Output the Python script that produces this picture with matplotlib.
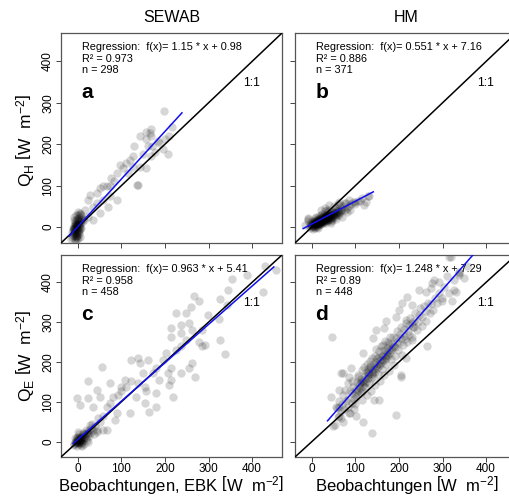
import matplotlib
matplotlib.use("Agg")
import matplotlib.pyplot as plt

plt.rcParams['font.family'] = ['Liberation Sans', 'DejaVu Sans']
plt.rcParams['mathtext.fontset'] = 'custom'
plt.rcParams['mathtext.rm'] = 'Liberation Sans'
plt.rcParams['mathtext.it'] = 'Liberation Sans:italic'
plt.rcParams['mathtext.bf'] = 'Liberation Sans:bold'

model_titles = ["SEWAB", "HM"]
panel_letters = ["a", "b", "c", "d"]
tick_values = [0, 100, 200, 300, 400]

sewab_qh_points = [
    (197, 280), (217, 241), (210, 221), (201, 213), (168, 221), (166, 227), (142, 221), (157, 213),
    (183, 207), (162, 195), (130, 195), (149, 177), (195, 189), (208, 177), (168, 171), (142, 146),
    (157, 142), (126, 171), (111, 155), (96, 150), (115, 130), (89, 130), (77, 118), (66, 98),
    (58, 98), (73, 74), (51, 94), (43, 82), (24, 66), (28, 78), (35, 49), (17, 41), (5, 33),
    (13, 17), (51, 33), (89, 66), (136, 101), (43, 57), (58, 66), (73, 98), (84, 110), (24, 25),
    (35, 17), (119, 163), (104, 142), (126, 146), (171, 195), (178, 181), (186, 203), (157, 229),
    (168, 236), (70, 49), (138, 102),
    (-8, -5), (-5, 0), (-3, 5), (0, 10), (2, 15), (-6, -10), (-10, -15), (-12, -20), (-4, -22),
    (0, -10), (3, 0), (5, 8), (-2, 20), (1, 28), (-6, 12), (-9, 3), (-11, -8), (-14, -25),
    (-7, -28), (-2, -30), (4, -5), (6, 18), (-3, -15), (8, 25), (-5, 30), (2, -18), (-9, -3),
    (-1, 2), (3, -8), (0, 35), (-13, -12), (10, 12), (7, -2), (-4, 8), (12, 20), (-15, -28),
    (-6, -33), (5, -25), (-3, -23), (-7, 4), (-2, -6), (1, 6), (-5, -14), (4, 12), (-8, 18),
    (-6, -2), (-4, 3), (-2, 8), (0, 14), (1, 20), (-8, -12), (-6, -18), (-10, -22), (-3, -8),
    (-1, -3), (2, 5), (4, 1), (-7, 7), (-9, -6), (-5, -25), (-1, -20), (3, 22), (0, -27),
    (-12, -2), (6, 28), (-4, 16), (2, -12), (-8, 25), (4, 32),
]

hm_qh_points = [
    (0, 5), (5, 8), (10, 10), (15, 12), (20, 15), (25, 18), (30, 20), (35, 22), (40, 25), (45, 28),
    (50, 30), (55, 33), (5, 3), (10, 5), (15, 15), (20, 10), (25, 25), (30, 15), (35, 28), (40, 20),
    (45, 22), (50, 35), (0, 0), (-5, 2), (8, 18), (12, 0), (18, 22), (22, 8), (28, 12), (32, 30),
    (38, 18), (42, 32), (48, 25), (52, 40), (58, 30), (60, 38), (65, 35), (3, 12), (7, -2),
    (14, 20), (17, 5), (24, 14), (27, 30), (33, 10), (36, 35), (44, 15), (20, 28), (10, 25),
    (0, 15), (-3, 8), (62, 28), (70, 40), (68, 45), (75, 42), (80, 45), (85, 50), (72, 50),
    (55, 45), (30, 38), (40, 42), (-8, 15), (-10, 20), (-5, -2), (2, -5), (15, -3),
    (12, 14), (18, 16), (22, 20), (26, 22), (16, 9), (21, 12), (29, 25), (34, 18), (9, 8), (6, 14),
    (2, 2), (4, 6), (6, 4), (8, 9), (11, 7), (13, 11), (16, 13), (19, 12), (21, 17), (23, 15),
    (26, 19), (29, 17), (31, 23), (34, 21), (37, 24), (39, 27), (41, 23), (43, 29), (46, 26),
    (49, 31), (51, 28), (53, 34), (56, 31), (59, 36), (3, 9), (9, 13), (14, 8), (18, 19), (23, 23),
    (27, 14), (31, 27), (36, 19), (41, 31), (46, 33), (52, 25), (57, 39), (1, 4), (6, 11),
    (12, 17), (17, 10), (22, 13), (27, 21), (33, 25), (38, 30), (43, 20), (48, 36), (5, 0),
    (11, 3), (19, 6), (25, 10), (35, 15), (47, 18), (-2, 5), (-4, 10), (8, 22), (16, 26),
    (24, 32), (34, 40), (62, 33), (66, 40),
    (7, 6), (13, 9), (17, 14), (24, 17), (28, 19), (32, 21), (15, 18), (20, 21), (25, 14), (30, 24),
    (10, 12), (36, 26), (40, 29), (44, 24), (12, 8), (19, 9), (27, 17), (33, 19),
    (90, 55), (95, 60), (100, 55), (105, 62), (110, 62), (88, 40), (78, 58), (60, 55), (65, 52),
    (120, 53), (128, 74), (132, 74), (125, 60), (-9, 21), (40, 53), (63, 61), (50, 50), (98, 61),
    (75, 57), (85, 65), (115, 70), (20, 40), (30, 45), (-15, 5), (45, 10), (55, 20), (70, 25),
    (80, 35),
]

sewab_qe_points = [
    (388, 419), (354, 408), (345, 381), (327, 358), (342, 343), (323, 307), (299, 318), (278, 352),
    (267, 366), (259, 339), (248, 323), (256, 297), (236, 293), (225, 323), (236, 272), (214, 264),
    (214, 285), (263, 281), (286, 281), (293, 243), (327, 256), (339, 220), (270, 163), (255, 184),
    (263, 197), (214, 184), (214, 155), (210, 142), (206, 172), (195, 205), (180, 184), (180, 122),
    (164, 75), (153, 96), (153, 138), (160, 205), (138, 210), (123, 205), (123, 151), (108, 155),
    (111, 138), (100, 126), (119, 71), (89, 71), (81, 113), (92, 117), (73, 96), (85, 55), (58, 63),
    (55, 188), (43, 130), (35, 88), (24, 151), (24, 109), (5, 92), (-2, 109), (58, 29), (47, 59),
    (28, 42), (24, 21), (43, 25), (66, 29), (100, 138), (134, 113), (138, 147), (157, 126),
    (187, 155), (180, 88), (218, 113), (236, 172), (236, 239), (248, 256), (278, 251), (286, 239),
    (225, 230), (203, 222), (172, 172), (149, 172), (142, 197), (73, 147), (66, 88), (51, 113),
    (430, 441), (456, 431), (426, 376),
    (-5, 0), (0, 5), (5, 10), (10, 15), (-8, -5), (2, -3), (8, 3), (12, 20), (15, 8), (-3, 12),
    (20, 25), (25, 15), (18, 30), (-10, -8), (6, -8), (3, 18), (-2, -10), (10, 0), (14, -5),
    (22, 5), (28, 22), (30, 35), (0, 25), (-6, 8), (4, 2), (7, 12), (16, 18), (-4, -3), (9, -12),
    (24, -2), (35, 28), (40, 40), (45, 30), (50, 50), (32, 45), (38, 20), (1, -1), (3, 6), (-1, 3),
    (0, 0), (2, 2), (4, 5), (6, 7), (-3, -2), (1, -5), (5, -2), (8, 8), (10, 10), (12, 5),
    (-1, 8), (3, 12), (-5, 3), (7, -4), (14, 12), (18, 10), (11, 22), (20, 18), (-7, 0), (26, 28),
]

hm_qe_points = [
    (315, 465), (330, 377), (299, 352), (261, 377), (246, 381), (277, 398), (292, 402), (311, 415),
    (337, 419), (219, 364), (231, 343), (208, 348), (200, 331), (193, 314), (216, 306), (231, 297),
    (170, 302), (166, 285), (147, 281), (140, 260), (46, 264), (117, 222), (71, 172), (90, 184),
    (204, 163), (63, 130), (155, 105), (63, 88), (63, 63), (193, 67), (52, 42), (139, 21),
    (280, 406), (326, 406), (337, 427), (273, 385), (315, 373), (265, 239), (204, 168), (235, 289),
    (231, 255), (216, 209), (143, 105), (86, 163), (67, 172), (56, 88), (86, 71), (101, 63),
    (117, 50), (71, 50), (48, 38), (43, 113), (319, 465), (338, 423), (349, 411), (326, 381),
    (322, 352), (357, 440),
    (61, 62), (58, 84), (63, 101), (66, 76), (69, 95), (72, 118), (74, 82), (77, 130), (68, 58),
    (82, 86), (84, 108), (79, 101), (87, 128), (88, 72), (83, 146), (92, 96), (91, 121), (94, 138),
    (96, 106), (93, 152), (97, 82), (99, 116), (102, 112), (101, 131), (104, 149), (103, 125),
    (106, 168), (98, 94), (108, 142), (107, 162), (112, 122), (111, 146), (113, 158), (110, 135),
    (114, 181), (116, 104), (118, 153), (119, 188), (121, 136), (122, 157), (124, 174), (120, 148),
    (126, 196), (127, 118), (128, 167), (129, 183), (132, 147), (131, 171), (133, 186), (130, 160),
    (134, 202), (136, 128), (137, 181), (138, 211), (141, 162), (142, 183), (143, 196), (140, 174),
    (144, 216), (146, 142), (147, 190), (148, 232), (151, 171), (152, 194), (153, 212), (150, 186),
    (154, 227), (156, 152), (157, 206), (158, 241), (161, 182), (162, 204), (163, 221), (160, 199),
    (164, 243), (166, 166), (167, 215), (168, 252), (171, 196), (172, 217), (173, 236), (170, 211),
    (174, 251), (176, 177), (177, 231), (179, 262), (181, 207), (182, 229), (183, 246), (180, 222),
    (186, 264), (188, 192), (189, 241), (191, 216), (192, 238), (194, 259), (196, 277), (198, 229),
    (201, 247), (203, 271), (204, 288), (206, 218), (209, 243), (211, 266), (212, 284), (214, 257),
    (216, 298), (219, 251), (221, 279), (223, 294), (224, 268), (226, 311), (229, 263), (232, 288),
    (234, 304), (237, 322), (241, 281), (243, 301), (246, 318), (248, 336), (252, 291), (254, 314),
    (257, 341), (261, 303), (263, 328), (266, 349), (271, 322), (274, 346), (279, 331), (282, 361),
    (288, 349), (292, 374), (298, 361), (303, 388),
    (105, 130), (112, 150), (118, 140), (123, 165), (128, 175), (134, 190), (139, 170), (145, 200),
    (150, 210), (156, 195), (161, 215), (166, 230), (172, 225), (177, 245), (115, 128), (125, 150),
    (135, 160), (145, 175), (155, 190), (165, 205), (175, 215), (185, 235), (195, 250), (205, 260),
]

qh_qe_panels = [sewab_qh_points, hm_qh_points, sewab_qe_points, hm_qe_points]
reg_slopes = [1.15, 0.551, 0.963, 1.248]
reg_intercepts = [0.98, 7.16, 5.41, 7.29]
reg_slope_labels = ["1.15", "0.551", "0.963", "1.248"]
reg_intercept_labels = ["0.98", "7.16", "5.41", "7.29"]
r2_labels = ["0.973", "0.886", "0.958", "0.89"]
n_labels = ["298", "371", "458", "448"]
reg_x_ranges = [(-20, 239), (-20, 141), (-11, 450), (36, 370)]

# ---------------- figure ----------------
W, H = 509, 496
fig = plt.figure(figsize=(W / 100, H / 100), dpi=100)

col_left_px = [61, 295]
col_width_px = 221
row_top_px = [33, 255]
row_height_px = [210, 202]
lims = (-38.8, 468.8)

axes = []
for r in range(2):
    for c in range(2):
        left = col_left_px[c] / W
        bottom = 1 - (row_top_px[r] + row_height_px[r]) / H
        ax = fig.add_axes([left, bottom, col_width_px / W, row_height_px[r] / H])
        axes.append(ax)

for i, ax in enumerate(axes):
    r, c = divmod(i, 2)
    pts = qh_qe_panels[i]
    xs = [p[0] for p in pts]
    ys = [p[1] for p in pts]
    ax.scatter(xs, ys, s=36, color='black', alpha=0.16, linewidths=0, zorder=2)
    ax.plot(lims, lims, color='black', lw=1.1, zorder=3)
    x0, x1 = reg_x_ranges[i]
    ax.plot([x0, x1], [reg_slopes[i] * x0 + reg_intercepts[i], reg_slopes[i] * x1 + reg_intercepts[i]],
            color='#1010ee', lw=1.1, zorder=4)
    ax.set_xlim(lims)
    ax.set_ylim(lims)
    ax.set_xticks(tick_values)
    ax.set_yticks(tick_values)
    ax.tick_params(direction='out', length=3.5, width=0.7, color='#444444',
                   labelsize=8.5, pad=1.0, top=False, right=False)
    ax.tick_params(axis='y', labelrotation=90, pad=1.5)
    for lab in ax.get_yticklabels():
        lab.set_va('center')
    if r == 0:
        ax.set_xticklabels([])
    if c == 1:
        ax.set_yticklabels([])
    for sp in ax.spines.values():
        sp.set_color('#555555')
        sp.set_linewidth(0.9)

    txt = ("Regression:  f(x)= " + reg_slope_labels[i] + " * x + " + reg_intercept_labels[i]
           + "\nR\u00b2 = " + r2_labels[i] + "\nn = " + n_labels[i])
    ax.annotate(txt, xy=(0, 1), xycoords='axes fraction', xytext=(20.5 * 0.72, -9.0 * 0.72),
                textcoords='offset points', va='top', ha='left', fontsize=7.8,
                linespacing=1.2, zorder=3)
    ax.annotate(panel_letters[i], xy=(0, 1), xycoords='axes fraction',
                xytext=(20.5 * 0.72, -65 * 0.72), textcoords='offset points',
                va='baseline', ha='left', fontsize=15, fontweight='bold', zorder=3)
    ax.text(400, 347, "1:1", fontsize=8.7, ha='center', va='center', zorder=3)

# titles
fig.text(171.5 / W, 1 - 17 / H, model_titles[0], ha='center', va='center', fontsize=11.5)
fig.text(406.5 / W, 1 - 17 / H, model_titles[1], ha='center', va='center', fontsize=11.5)

# axis labels
unit = r"$\left[\mathrm{W\ \ m^{-2}}\right]$"
fig.text(171.5 / W, 1 - 486 / H, "Beobachtungen, EBK " + unit, ha='center', va='center', fontsize=12)
fig.text(406.5 / W, 1 - 486 / H, "Beobachtungen " + unit, ha='center', va='center', fontsize=12)
fig.text(26 / W, 1 - 140 / H, r"Q$_\mathrm{H}$ " + unit, ha='center', va='center', rotation=90, fontsize=12.5)
fig.text(26 / W, 1 - 356 / H, r"Q$_\mathrm{E}$ " + unit, ha='center', va='center', rotation=90, fontsize=12.5)

fig.savefig("out.png", dpi=100)
